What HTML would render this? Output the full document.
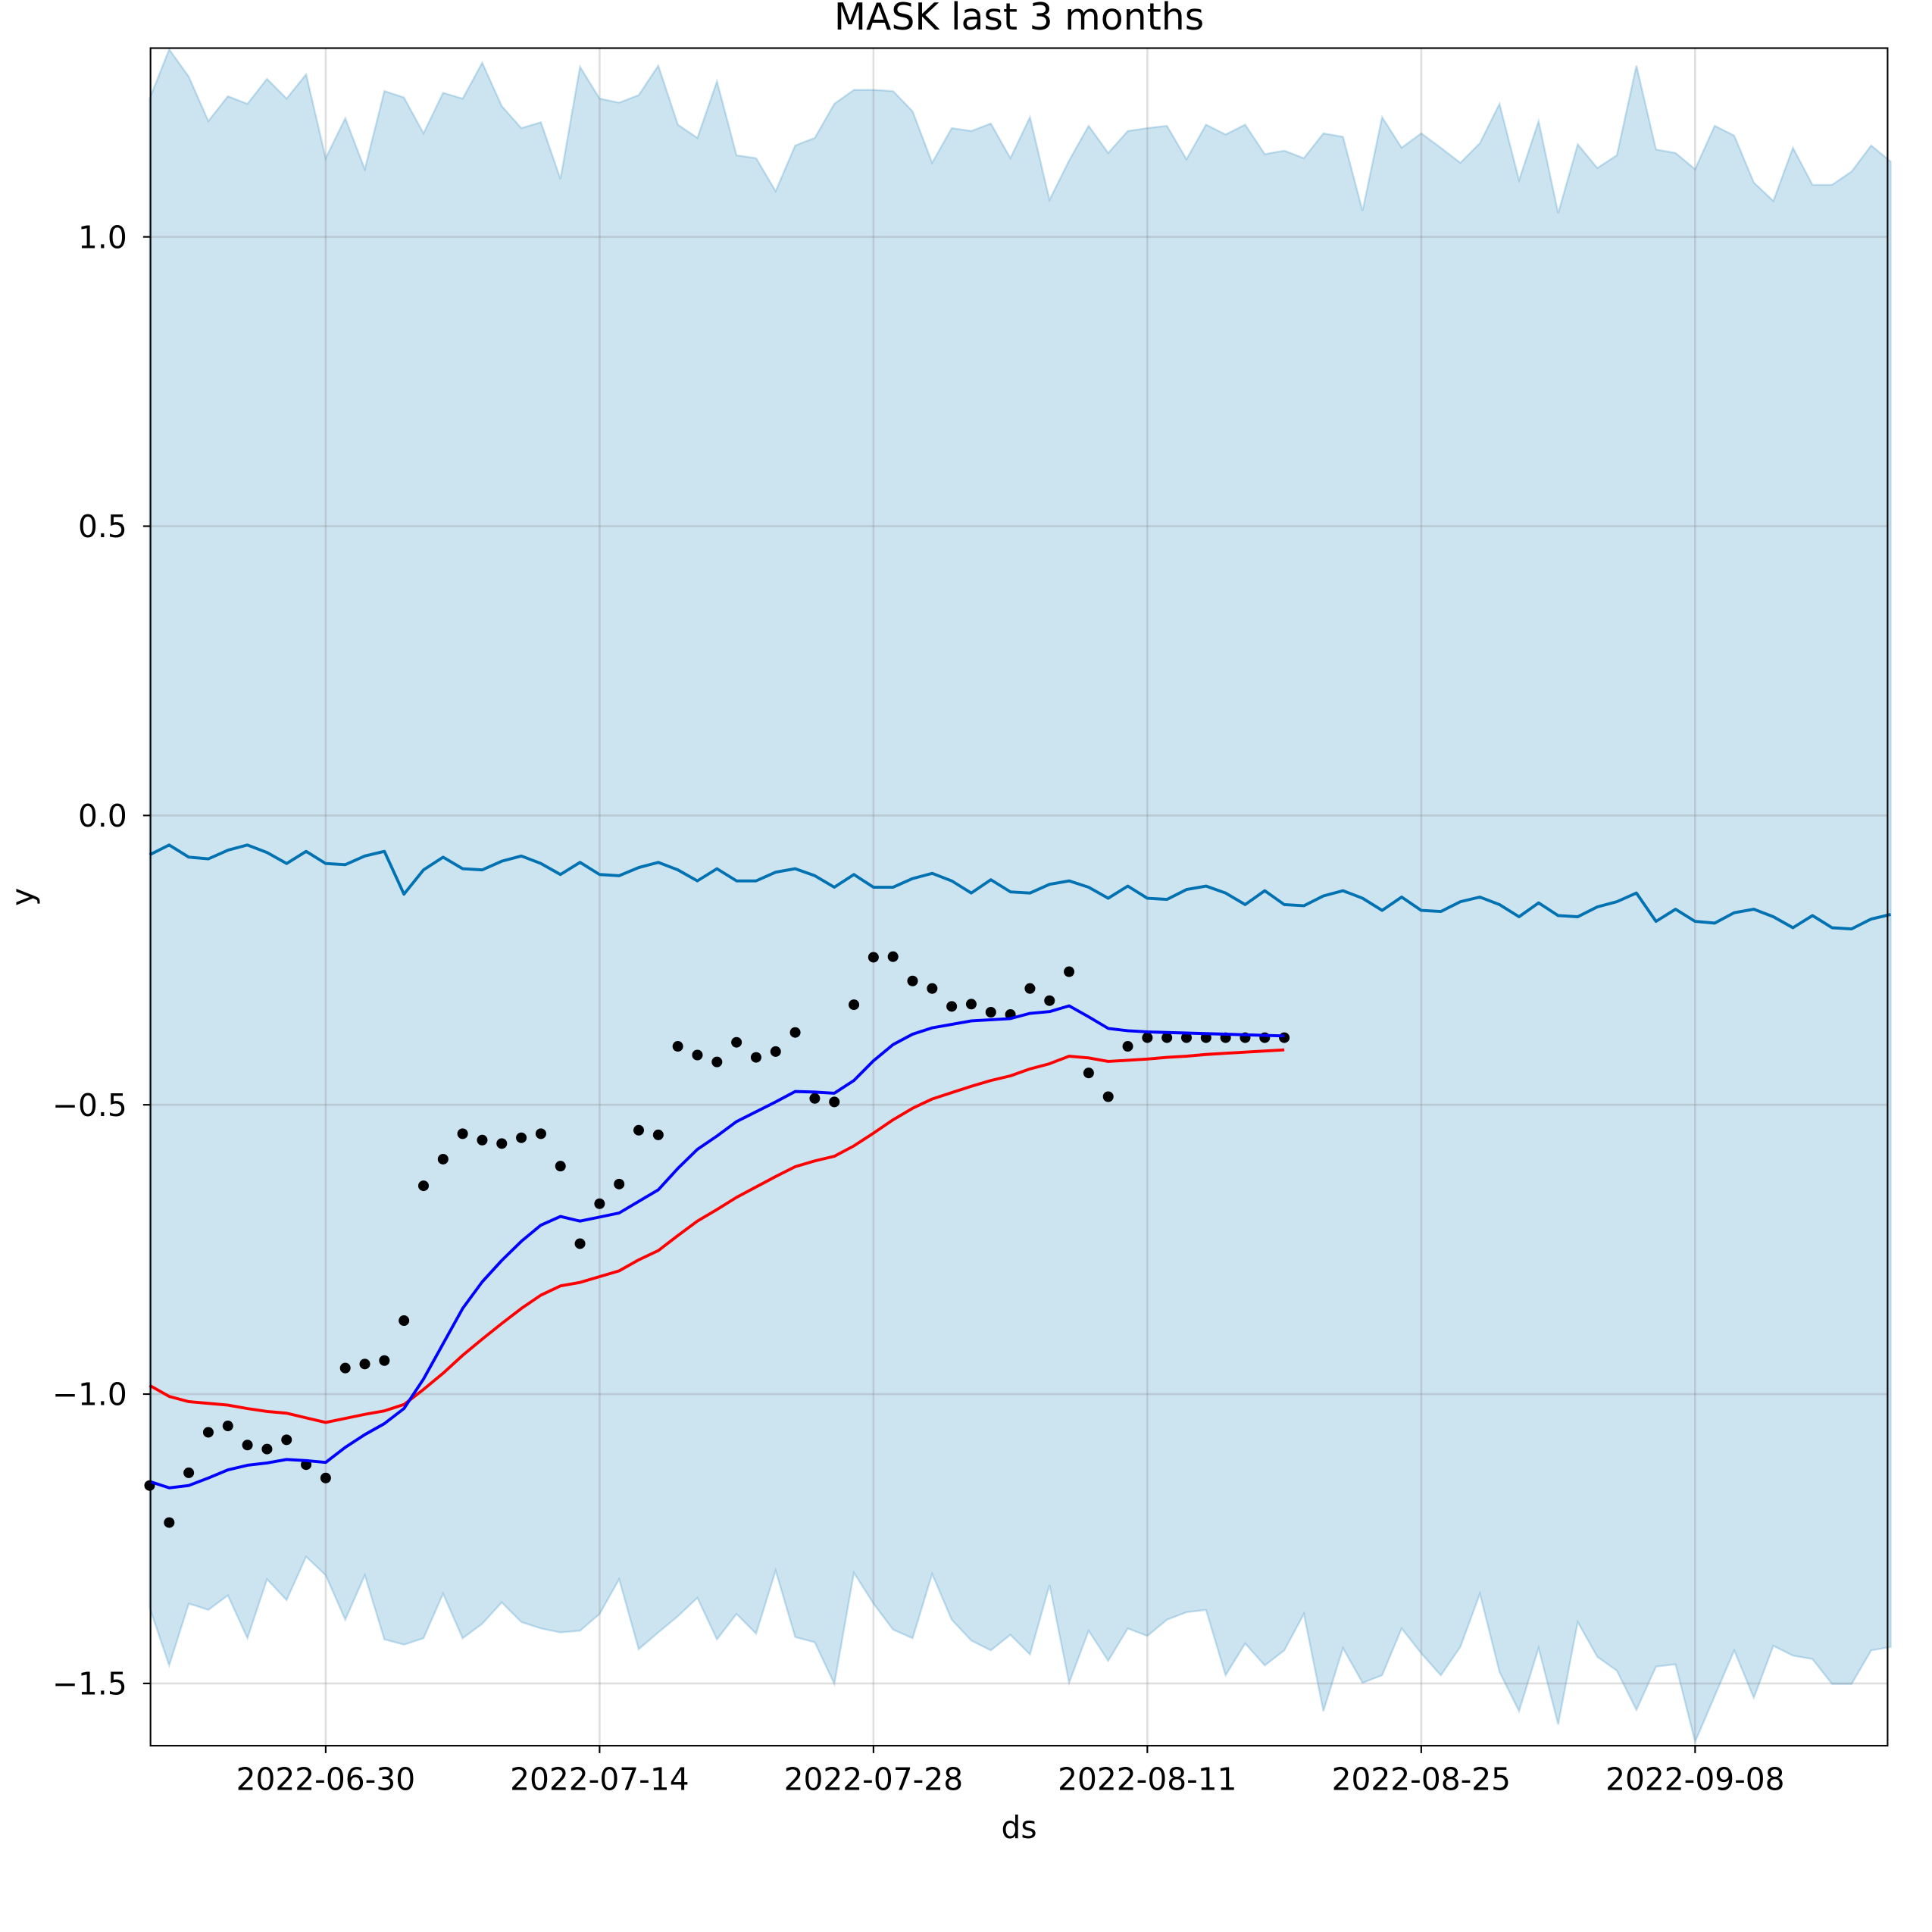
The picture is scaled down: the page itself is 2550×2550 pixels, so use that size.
<!DOCTYPE html>
<html><head><meta charset="utf-8"><style>
html,body{margin:0;padding:0;background:#fff}
svg{display:block}
text{font-family:"DejaVu Sans","Liberation Sans",sans-serif;fill:#000}
</style></head><body>
<svg id="chart" width="2550" height="2550" viewBox="0 0 1566 1566" xmlns="http://www.w3.org/2000/svg">
<rect x="0" y="0" width="1566" height="1566" fill="#fff"/>
<text x="826" y="24" font-size="30" text-anchor="middle">MASK last 3 months</text>
<g id="plot"></g>
<text x="826" y="1490" font-size="25" text-anchor="middle">ds</text>
<text x="27" y="727" font-size="25" text-anchor="middle" transform="rotate(-90 27 727)">y</text>
</svg>
<script>
// day offsets relative to 2022-06-30
const startDay = -9;
const yhat = [-0.068,-0.051,-0.072,-0.075,-0.060,-0.051,-0.064,-0.083,-0.062,-0.083,-0.085,-0.070,-0.062,-0.136,-0.094,-0.072,-0.092,-0.094,-0.079,-0.070,-0.083,-0.102,-0.081,-0.102,-0.104,-0.090,-0.081,-0.094,-0.113,-0.092,-0.113,-0.113,-0.098,-0.092,-0.104,-0.124,-0.102,-0.124,-0.124,-0.109,-0.100,-0.113,-0.134,-0.111,-0.132,-0.134,-0.119,-0.113,-0.124,-0.143,-0.122,-0.143,-0.145,-0.128,-0.122,-0.134,-0.154,-0.130,-0.154,-0.156,-0.139,-0.130,-0.143,-0.164,-0.141,-0.164,-0.166,-0.149,-0.141,-0.154,-0.175,-0.151,-0.173,-0.175,-0.158,-0.149,-0.134,-0.183,-0.162,-0.183,-0.186,-0.168,-0.162,-0.175,-0.194,-0.173,-0.194,-0.196,-0.179,-0.171];
const upper = [1.239,1.324,1.277,1.200,1.243,1.230,1.273,1.239,1.281,1.136,1.205,1.117,1.252,1.241,1.179,1.249,1.239,1.301,1.226,1.188,1.198,1.100,1.294,1.239,1.232,1.245,1.296,1.194,1.171,1.269,1.141,1.136,1.079,1.158,1.171,1.230,1.254,1.254,1.252,1.217,1.128,1.188,1.183,1.196,1.136,1.207,1.064,1.132,1.192,1.145,1.183,1.188,1.192,1.134,1.194,1.177,1.194,1.143,1.149,1.136,1.179,1.173,1.045,1.207,1.154,1.179,1.154,1.128,1.162,1.230,1.098,1.200,1.041,1.160,1.119,1.141,1.296,1.151,1.145,1.117,1.192,1.175,1.094,1.062,1.154,1.090,1.090,1.113,1.158,1.130];
const lower = [-1.369,-1.469,-1.362,-1.373,-1.348,-1.422,-1.320,-1.356,-1.281,-1.313,-1.390,-1.313,-1.424,-1.433,-1.422,-1.345,-1.422,-1.397,-1.360,-1.394,-1.405,-1.412,-1.409,-1.380,-1.320,-1.441,-1.412,-1.384,-1.352,-1.424,-1.380,-1.414,-1.305,-1.420,-1.429,-1.501,-1.309,-1.362,-1.407,-1.422,-1.311,-1.390,-1.426,-1.443,-1.416,-1.450,-1.330,-1.499,-1.409,-1.461,-1.405,-1.418,-1.390,-1.377,-1.373,-1.486,-1.431,-1.469,-1.443,-1.380,-1.548,-1.439,-1.499,-1.486,-1.405,-1.448,-1.486,-1.437,-1.345,-1.480,-1.548,-1.439,-1.571,-1.394,-1.454,-1.478,-1.546,-1.471,-1.467,-1.601,-1.522,-1.443,-1.525,-1.435,-1.452,-1.458,-1.501,-1.501,-1.443,-1.437];
const observed = [-1.158,-1.222,-1.136,-1.066,-1.055,-1.088,-1.095,-1.079,-1.122,-1.145,-0.955,-0.948,-0.942,-0.873,-0.640,-0.594,-0.550,-0.561,-0.567,-0.557,-0.550,-0.606,-0.740,-0.671,-0.637,-0.544,-0.552,-0.399,-0.414,-0.426,-0.392,-0.418,-0.408,-0.375,-0.489,-0.495,-0.327,-0.245,-0.244,-0.286,-0.299,-0.330,-0.326,-0.340,-0.344,-0.299,-0.320,-0.270,-0.445,-0.486,-0.399,-0.384,-0.384,-0.384,-0.384,-0.384,-0.384,-0.384,-0.384];
const blueLine = [-1.151,-1.162,-1.158,-1.145,-1.131,-1.123,-1.119,-1.113,-1.115,-1.118,-1.092,-1.070,-1.051,-1.025,-0.974,-0.913,-0.852,-0.806,-0.769,-0.736,-0.708,-0.693,-0.701,-0.694,-0.687,-0.667,-0.647,-0.610,-0.577,-0.554,-0.529,-0.512,-0.495,-0.477,-0.478,-0.480,-0.458,-0.424,-0.396,-0.378,-0.367,-0.361,-0.355,-0.353,-0.351,-0.342,-0.339,-0.329,-0.348,-0.368,-0.372,-0.374,-0.375,-0.376,-0.377,-0.378,-0.379,-0.380,-0.381];
const redLine = [-0.985,-1.004,-1.013,-1.016,-1.019,-1.025,-1.030,-1.033,-1.041,-1.049,-1.042,-1.035,-1.029,-1.018,-0.992,-0.964,-0.933,-0.905,-0.878,-0.852,-0.829,-0.813,-0.807,-0.797,-0.787,-0.768,-0.752,-0.726,-0.701,-0.681,-0.660,-0.642,-0.624,-0.607,-0.597,-0.589,-0.571,-0.549,-0.526,-0.506,-0.490,-0.479,-0.468,-0.458,-0.450,-0.438,-0.429,-0.416,-0.419,-0.425,-0.423,-0.421,-0.418,-0.416,-0.413,-0.411,-0.409,-0.407,-0.405];
const xTickDays = [0,14,28,42,56,70];
const xTickLabels = ["2022-06-30","2022-07-14","2022-07-28","2022-08-11","2022-08-25","2022-09-08"];
const yTicks = [1.0,0.5,0.0,-0.5,-1.0,-1.5];
const yTickLabels = ["1.0","0.5","0.0","\u22120.5","\u22121.0","\u22121.5"];

const L=122,R=1530,T=39,B=1415;
function X(d){return 264 + d*15.857;}
function Y(v){return 661 - v*469;}
const NS="http://www.w3.org/2000/svg";
const plot=document.getElementById('plot');
function mk(tag,attrs){const e=document.createElementNS(NS,tag);for(const k in attrs)e.setAttribute(k,attrs[k]);plot.appendChild(e);return e;}

let pts=[];
for(let i=0;i<upper.length;i++)pts.push(X(startDay+i).toFixed(2)+','+Y(upper[i]).toFixed(2));
for(let i=lower.length-1;i>=0;i--)pts.push(X(startDay+i).toFixed(2)+','+Y(lower[i]).toFixed(2));
const band=mk('polygon',{points:pts.join(' '),fill:'#0072B2','fill-opacity':'0.2',stroke:'#0072B2','stroke-opacity':'0.2','stroke-width':'1.5'});



xTickDays.forEach((d,i)=>{
  const g=mk('line',{x1:X(d),x2:X(d),y1:T,y2:B,stroke:'#808080','stroke-opacity':'0.25','stroke-width':'1.6'});
  
  
  const tk=mk('line',{x1:X(d),x2:X(d),y1:B,y2:B+6,stroke:'#000','stroke-width':'1.3'});
  
  
  const t=mk('text',{x:X(d),y:1451,'font-size':'25','text-anchor':'middle'});
  t.textContent=xTickLabels[i];
  
  
});
yTicks.forEach((v,i)=>{
  const g=mk('line',{x1:L,x2:R,y1:Y(v),y2:Y(v),stroke:'#808080','stroke-opacity':'0.25','stroke-width':'1.6'});
  
  
  const tk=mk('line',{x1:L-6,x2:L,y1:Y(v),y2:Y(v),stroke:'#000','stroke-width':'1.3'});
  
  
  const t=mk('text',{x:103,y:Y(v)+9,'font-size':'25','text-anchor':'end'});
  t.textContent=yTickLabels[i];
  
  
});

function line(arr,color,w){
  return mk('polyline',{points:arr.map((v,i)=>X(startDay+i).toFixed(2)+','+Y(v).toFixed(2)).join(' '),fill:'none',stroke:color,'stroke-width':w,'stroke-linejoin':'round'});
}
const fl=line(yhat,'#0072B2',2.4);



observed.forEach((v,i)=>{
  const c=mk('circle',{cx:X(startDay+i),cy:Y(v),r:4.3,fill:'#000'});
  
  
});
const rl=line(redLine,'#ff0000',2.4);


const bl=line(blueLine,'#0000ff',2.4);



const frame=mk('rect',{x:L,y:T,width:R-L,height:B-T,fill:'none',stroke:'#000','stroke-width':'1.3'});


</script>
</body></html>
